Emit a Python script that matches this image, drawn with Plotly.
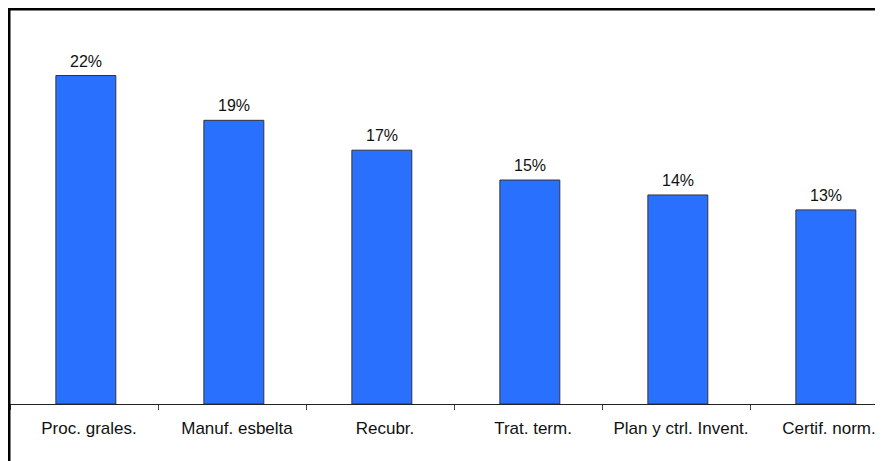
import plotly.graph_objects as go

categories = ["Proc. grales.", "Manuf. esbelta", "Recubr.", "Trat. term.", "Plan y ctrl. Invent.", "Certif. norm."]
values = [22, 19, 17, 15, 14, 13]
labels = ["22%", "19%", "17%", "15%", "14%", "13%"]

# page body has an 8px margin, so the figure is offset by (8, 8)
OFF = 8
W, H = 883 - OFF, 461 - OFF
ml, mt, mb, mr = 10 - OFF, 27 - OFF, 57, 0
pw = W - ml - mr
ph = H - mt - mb

fig = go.Figure()
fig.add_trace(go.Bar(
    x=categories, y=values, width=0.405, offset=-0.19,
    marker=dict(color="#2A70FF", line=dict(color="#333333", width=1)),
    hoverinfo="skip",
))

for c, v, t in zip(categories, values, labels):
    fig.add_annotation(x=c, y=v, text=t, showarrow=False, yanchor="bottom",
                       xshift=2, yshift=4, font=dict(size=16, color="#111111"))

# outer frame (top and left thick black lines)
top_y = (ph + mt - 1) / ph
left_x = -(ml - 1) / pw
fig.add_shape(type="line", xref="paper", yref="paper",
              x0=left_x, x1=1.0, y0=top_y, y1=top_y,
              line=dict(color="black", width=3))
fig.add_shape(type="line", xref="paper", yref="paper",
              x0=left_x, x1=left_x, y0=top_y + 1.5 / ph, y1=-mb / ph,
              line=dict(color="black", width=3))

fig.update_layout(
    width=W, height=H,
    margin=dict(l=ml, r=mr, t=mt, b=mb, pad=0),
    paper_bgcolor="white", plot_bgcolor="white",
    font=dict(family="Arial, Liberation Sans, sans-serif", size=17, color="#111111"),
    showlegend=False,
    xaxis=dict(range=[-0.5, 5.5 - 15/148], showline=True, linecolor="#222222", linewidth=1,
               ticks="outside", tickson="boundaries", ticklen=5, tickcolor="#444444",
               showgrid=False, ticklabelstandoff=9, ticklabelshift=5, fixedrange=True,
               tickfont=dict(size=17)),
    yaxis=dict(range=[0, 25.25], showline=True, linecolor="#808080", linewidth=1,
               showticklabels=False, showgrid=False, zeroline=False, ticks="", fixedrange=True),
)

fig.write_html("out.html")
